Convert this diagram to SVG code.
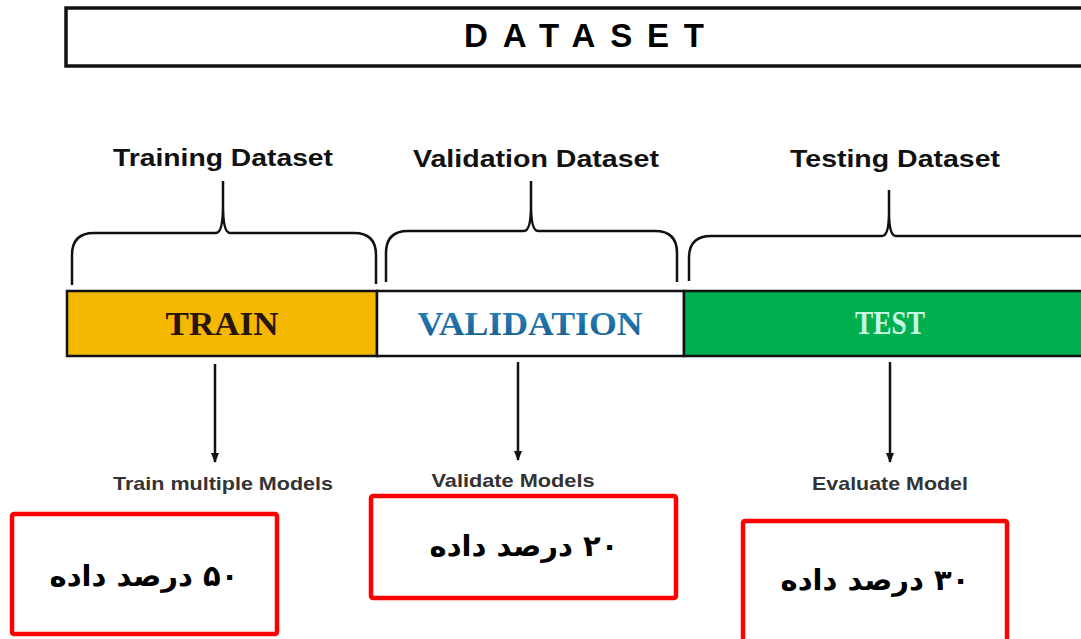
<svg xmlns="http://www.w3.org/2000/svg" width="1081" height="639" viewBox="0 0 1081 639">
<defs>
<marker id="ah" viewBox="0 0 10 10" refX="9" refY="5" markerWidth="10" markerHeight="10" markerUnits="userSpaceOnUse" orient="auto">
<path d="M0,1 L10,5 L0,9 Z" fill="#111"/>
</marker>
<linearGradient id="vg" x1="0" y1="0" x2="0" y2="1">
<stop offset="0" stop-color="#2a86c0"/>
<stop offset="1" stop-color="#155a8a"/>
</linearGradient>
</defs>
<style>
.hdr{font-family:"Liberation Sans",Arial,sans-serif;font-weight:bold;font-size:24px;fill:#111;text-anchor:middle}
.bar{font-family:"Liberation Serif","Times New Roman",serif;font-weight:bold;font-size:33px;text-anchor:middle}
.lbl{font-family:"Liberation Sans",Arial,sans-serif;font-weight:bold;font-size:19px;fill:#333;text-anchor:middle}
.fa{font-family:"DejaVu Sans","Noto Sans",sans-serif;font-weight:bold;font-size:29px;fill:#000;text-anchor:middle}
.brace{fill:none;stroke:#111;stroke-width:2.5}
.rbox{fill:none;stroke:#ff0000;stroke-width:4.5}
.arr{stroke:#111;stroke-width:2.5;fill:none}
</style>
<rect width="1081" height="639" fill="#fff"/>
<g id="dataset">
<rect x="66" y="8" width="1030" height="58" fill="#fff" stroke="#111" stroke-width="3.5"/>
<text x="584" y="47" font-family="Liberation Sans,Arial,sans-serif" font-weight="bold" font-size="33" textLength="240" lengthAdjust="spacing" text-anchor="middle" fill="#000">DATASET</text>
</g>
<g id="training-header">
<text class="hdr" x="223" y="166" textLength="220" lengthAdjust="spacingAndGlyphs">Training Dataset</text>
<path class="brace" d="M72,285 L72,255 Q72,233 94,233 L216,233 Q223,233 223,205 L223,181 M223,205 Q223,233 230,233 L354,233 Q376,233 376,255 L376,284"/>
</g>
<g id="validation-header">
<text class="hdr" x="536" y="167" textLength="246" lengthAdjust="spacingAndGlyphs">Validation Dataset</text>
<path class="brace" d="M386,282 L386,253 Q386,231 408,231 L524,231 Q531,231 531,205 L531,181 M531,205 Q531,231 538,231 L655,231 Q677,231 677,253 L677,282"/>
</g>
<g id="testing-header">
<text class="hdr" x="895" y="167" textLength="210" lengthAdjust="spacingAndGlyphs">Testing Dataset</text>
<path class="brace" d="M689,281 L689,258 Q689,236 711,236 L882,236 Q889,236 889,212 L889,190 M889,212 Q889,236 896,236 L1090,236"/>
</g>
<g id="train">
<rect x="67" y="291" width="310" height="65" fill="#f5b800" stroke="#111" stroke-width="2.5"/>
<text class="bar" x="222" y="335" fill="#2a1608" textLength="113" lengthAdjust="spacingAndGlyphs">TRAIN</text>
</g>
<g id="validation">
<rect x="377" y="291" width="307" height="65" fill="#fff" stroke="#111" stroke-width="2.5"/>
<text class="bar" x="530" y="335" fill="url(#vg)" textLength="225" lengthAdjust="spacingAndGlyphs">VALIDATION</text>
</g>
<g id="test">
<rect x="684" y="291" width="410" height="65" fill="#00b050" stroke="#111" stroke-width="2.5"/>
<text class="bar" x="890" y="334" fill="#c8f7e6" textLength="70" lengthAdjust="spacingAndGlyphs">TEST</text>
</g>
<g id="connectors">
<line class="arr" x1="215" y1="364" x2="215" y2="462" marker-end="url(#ah)"/>
<line class="arr" x1="518" y1="362" x2="518" y2="460" marker-end="url(#ah)"/>
<line class="arr" x1="890" y1="362" x2="890" y2="462" marker-end="url(#ah)"/>
</g>
<g id="train-label"><text class="lbl" x="223" y="490" textLength="220" lengthAdjust="spacingAndGlyphs">Train multiple Models</text></g>
<g id="validate-label"><text class="lbl" x="513" y="487" textLength="163" lengthAdjust="spacingAndGlyphs">Validate Models</text></g>
<g id="evaluate-label"><text class="lbl" x="890" y="490" textLength="156" lengthAdjust="spacingAndGlyphs">Evaluate Model</text></g>
<g id="box50">
<rect class="rbox" x="12" y="514" width="265" height="120" rx="2"/>
<text class="fa" x="144" y="586" direction="rtl">۵۰ درصد داده</text>
</g>
<g id="box20">
<rect class="rbox" x="371" y="496" width="305" height="102" rx="2"/>
<text class="fa" x="524" y="556" direction="rtl">۲۰ درصد داده</text>
</g>
<g id="box30">
<rect class="rbox" x="743" y="521" width="264" height="130" rx="2"/>
<text class="fa" x="875" y="590" direction="rtl">۳۰ درصد داده</text>
</g>
</svg>
